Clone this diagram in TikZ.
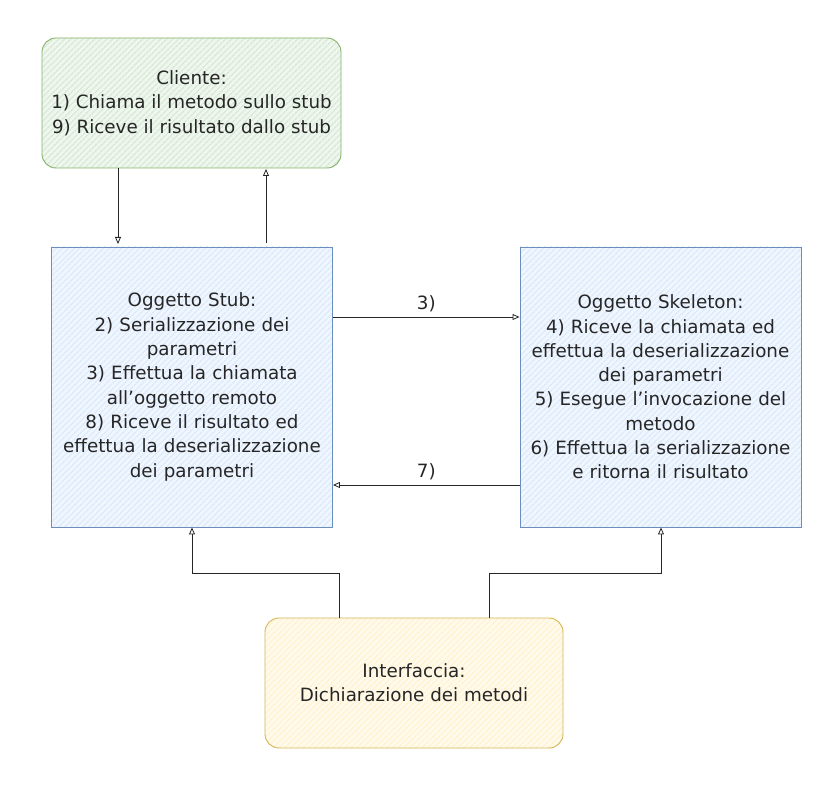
\documentclass[tikz,border=0pt]{standalone}
\usepackage{fontspec}
\setmainfont{DejaVu Sans}
\usetikzlibrary{arrows.meta,patterns.meta}
\definecolor{gfill}{HTML}{D5E8D4}\definecolor{gline}{HTML}{82B366}
\definecolor{bfill}{HTML}{DAE8FC}\definecolor{bline}{HTML}{6C8EBF}
\definecolor{yfill}{HTML}{FFF2CC}\definecolor{yline}{HTML}{D6B656}
\tikzset{
  box/.style={draw, line width=0.9pt, align=center, inner sep=0pt,
    font=\fontsize{18.3}{24.3}\selectfont, text=black!85},
  greenbox/.style={box, draw=gline, rounded corners=14pt,
    preaction={fill=gfill!40},
    preaction={pattern={Lines[angle=45,distance=4pt,line width=1.3pt]}, pattern color=gfill},
    minimum width=299pt, minimum height=130pt},
  bluebox/.style={box, draw=bline,
    preaction={fill=bfill!40},
    preaction={pattern={Lines[angle=45,distance=4pt,line width=1.3pt]}, pattern color=bfill},
    minimum width=281pt, minimum height=280pt, text width=279pt},
  yellowbox/.style={box, draw=yline, rounded corners=14pt,
    preaction={fill=yfill!40},
    preaction={pattern={Lines[angle=45,distance=4pt,line width=1.3pt]}, pattern color=yfill},
    minimum width=298pt, minimum height=130pt},
  conn/.style={draw=black!85, line width=0.8pt, -{Triangle[open,length=7pt,width=6pt]}},
  lbl/.style={font=\fontsize{18.3}{20}\selectfont, text=black!85}
}
\begin{document}
\begin{tikzpicture}[x=1pt,y=-1pt]
\useasboundingbox[fill=white] (0,0) rectangle (827,799);
\node[greenbox] (cli) at (191.5,103) {Cliente:\\1) Chiama il metodo sullo stub\\9) Riceve il risultato dallo stub};
\node[bluebox] (stub) at (192,387) {Oggetto Stub:\\2) Serializzazione dei\\parametri\\3) Effettua la chiamata\\all'oggetto remoto\\8) Riceve il risultato ed\\effettua la deserializzazione\\dei parametri};
\node[bluebox] (skel) at (660.5,387) {Oggetto Skeleton:\\4) Riceve la chiamata ed\\effettua la deserializzazione\\dei parametri\\5) Esegue l'invocazione del\\metodo\\6) Effettua la serializzazione\\e ritorna il risultato};
\node[yellowbox] (intf) at (414,683) {Interfaccia:\\Dichiarazione dei metodi};
\coordinate (c1) at (118,168); \coordinate (s1) at (118,244);
\coordinate (s2) at (266,243); \coordinate (c2) at (266,169);
\draw[conn] (c1) -- (s1);
\draw[conn] (s2) -- (c2);
\draw[conn] (stub.east |- 0,317) -- node[lbl, above=1pt] (l3) {3)} (skel.west |- 0,317);
\draw[conn] (skel.west |- 0,485) -- node[lbl, above=1pt] (l7) {7)} (stub.east |- 0,485);
\draw[conn] (intf.north -| 339,0) -- (339,573) -- (192,573) -- (stub.south);
\draw[conn] (intf.north -| 489,0) -- (489,573) -- (661,573) -- (skel.south -| 661,0);
\end{tikzpicture}
\end{document}
